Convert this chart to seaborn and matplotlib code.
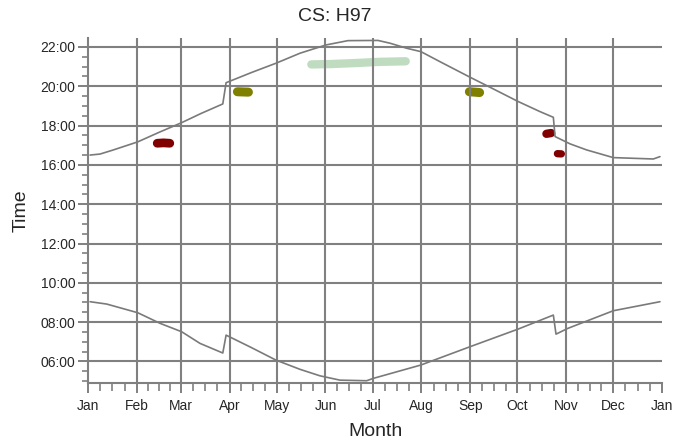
import numpy as np
import matplotlib
matplotlib.use("Agg")
import matplotlib.pyplot as plt
from matplotlib.ticker import MultipleLocator
import seaborn as sns

# --- axis labels ---
month_start = [0, 31, 59, 90, 120, 151, 181, 212, 243, 273, 304, 334, 365]
month_labels = ["Jan", "Feb", "Mar", "Apr", "May", "Jun", "Jul",
                "Aug", "Sep", "Oct", "Nov", "Dec", "Jan"]
hour_ticks = [6, 8, 10, 12, 14, 16, 18, 20, 22]
hour_labels = ["06:00", "08:00", "10:00", "12:00", "14:00",
               "16:00", "18:00", "20:00", "22:00"]

# --- sunset / sunrise lines (day of year, decimal hours) ---
sunset_day = [1.3, 7.6, 16.1, 31.6, 45.0, 59.6, 72.0, 85.7, 87.8, 104.0, 119.5,
              134.8, 151.3, 165.3, 184.4, 192.0, 202.8, 211.7, 223.8, 242.9,
              255.6, 273.6, 287.4, 295.9, 297.0, 306.5, 317.1, 334.0, 359.5, 363.7]
sunset_hr = [16.50, 16.55, 16.76, 17.17, 17.65, 18.15, 18.62, 19.10, 20.18, 20.70,
             21.17, 21.68, 22.10, 22.32, 22.33, 22.19, 21.93, 21.76, 21.25, 20.46,
             19.95, 19.22, 18.71, 18.42, 17.44, 17.07, 16.76, 16.37, 16.30, 16.42]

sunrise_day = [1.3, 11.9, 31.6, 45.8, 59.6, 71.2, 85.7, 87.8, 103.8, 119.5,
               134.8, 147.5, 160.2, 177.2, 181.4, 211.7, 242.9, 273.6, 295.9,
               297.6, 305.0, 334.0, 363.7]
sunrise_hr = [9.04, 8.92, 8.48, 7.94, 7.51, 6.92, 6.43, 7.34, 6.71, 6.07,
              5.60, 5.27, 5.05, 5.02, 5.14, 5.82, 6.75, 7.65, 8.36,
              7.39, 7.68, 8.58, 9.04]

# --- coloured observation groups ---
feb_day = [44, 48, 52]
feb_hr = [17.10, 17.12, 17.10]
apr_day = [95, 98.5, 102]
apr_hr = [19.72, 19.71, 19.70]
summer_day = [142, 155, 170, 185, 202]
summer_hr = [21.11, 21.13, 21.18, 21.24, 21.27]
sep_day = [242.5, 246, 249]
sep_hr = [19.72, 19.70, 19.68]
oct_day = [291.5, 294.5]
oct_hr = [17.58, 17.62]
nov_day = [298.5, 301]
nov_hr = [16.57, 16.56]

GRID = "#808080"
sns.set_style("white")
plt.rcParams["font.family"] = ["Liberation Sans", "DejaVu Sans"]
plt.rcParams["axes.axisbelow"] = "line"

fig = plt.figure(figsize=(6.74, 4.46), dpi=100)
ax = fig.add_axes([0.1306, 0.1406, 0.9822 - 0.1306, 0.9155 - 0.1406])

# blobs below the grid
blobs = [(feb_day, feb_hr, "#800000", 6.3),
         (apr_day, apr_hr, "#808000", 6.5),
         (summer_day, summer_hr, "#c0dcc0", 6.0),
         (sep_day, sep_hr, "#808000", 6.5),
         (oct_day, oct_hr, "#800000", 6.0),
         (nov_day, nov_hr, "#800000", 5.3)]
for d, h, c, lw in blobs:
    sns.lineplot(x=d, y=h, color=c, linewidth=lw, solid_capstyle="round",
                 estimator=None, sort=False, ax=ax, zorder=1)

sns.lineplot(x=sunset_day, y=sunset_hr, color="#7a7a7a", linewidth=1.2,
             estimator=None, sort=False, ax=ax, zorder=2)
sns.lineplot(x=sunrise_day, y=sunrise_hr, color="#7a7a7a", linewidth=1.2,
             estimator=None, sort=False, ax=ax, zorder=2)

ax.set_xlim(0, 365)
ax.set_ylim(4.89, 22.47)
ax.set_xticks(month_start)
ax.set_xticklabels(month_labels)
minor_x = []
for a, b in zip(month_start[:-1], month_start[1:]):
    minor_x += [a + (b - a) * k / 4 for k in (1, 2, 3)]
ax.set_xticks(minor_x, minor=True)
ax.set_yticks(hour_ticks)
ax.set_yticklabels(hour_labels)
ax.yaxis.set_minor_locator(MultipleLocator(0.5))

ax.grid(True, which="major", color=GRID, linewidth=1.5)
xg = ax.get_xgridlines()
xg[0].set_visible(False)
xg[-1].set_visible(False)

for s in ["top", "right"]:
    ax.spines[s].set_visible(False)
for s in ["left", "bottom"]:
    ax.spines[s].set_color(GRID)
    ax.spines[s].set_linewidth(1.5)

ax.tick_params(which="major", direction="out", length=7, width=1.4, color=GRID,
               labelsize=10, pad=2, left=True, bottom=True)
ax.tick_params(axis="x", which="major", pad=4.5)
ax.tick_params(axis="y", which="minor", direction="out", length=4.3, width=1.2,
               color=GRID, left=True)
ax.tick_params(axis="x", which="minor", direction="out", length=5.5, width=1.2,
               color=GRID, bottom=True)

ax.set_xlabel("Month", fontsize=14, labelpad=7)
ax.set_ylabel("Time", fontsize=14, labelpad=8)
fig.text(0.497, 0.953, "CS: H97", fontsize=14, ha="center", va="baseline")

fig.savefig("out.png", dpi=100)
